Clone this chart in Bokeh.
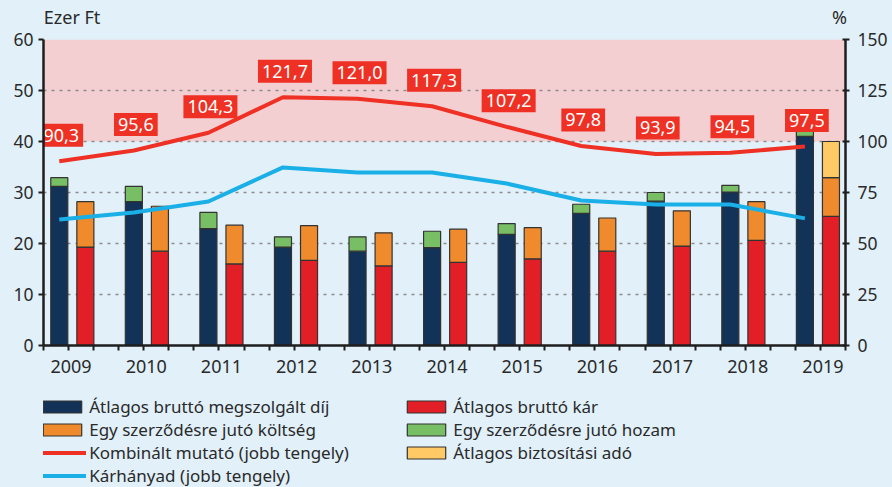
import numpy as np
from bokeh.plotting import figure
from bokeh.layouts import column
from bokeh.models import (Range1d, LinearAxis, FixedTicker, ColumnDataSource,
                          BoxAnnotation, Legend, LegendItem)
from bokeh.embed import file_html
from bokeh.resources import INLINE
from bokeh.core.properties import value

# ---------------- data ----------------
years = ["2009", "2010", "2011", "2012", "2013", "2014", "2015", "2016", "2017", "2018", "2019"]
dij = [31.2, 28.2, 22.9, 19.3, 18.5, 19.2, 21.8, 25.9, 28.3, 30.1, 41.0]      # Átlagos bruttó megszolgált díj
hozam = [1.7, 3.0, 3.2, 2.0, 2.8, 3.2, 2.1, 1.8, 1.7, 1.3, 1.5]               # Egy szerződésre jutó hozam
kar = [19.3, 18.5, 16.0, 16.7, 15.6, 16.3, 17.0, 18.5, 19.5, 20.6, 25.3]      # Átlagos bruttó kár
koltseg = [8.9, 8.8, 7.6, 6.8, 6.5, 6.5, 6.1, 6.5, 6.9, 7.6, 7.6]            # Egy szerződésre jutó költség
ado = [0, 0, 0, 0, 0, 0, 0, 0, 0, 0, 7.1]                                     # Átlagos biztosítási adó
kombinalt = [90.3, 95.6, 104.3, 121.7, 121.0, 117.3, 107.2, 97.8, 93.9, 94.5, 97.5]  # right axis, %
karhanyad = [61.8, 65.2, 70.6, 87.3, 84.8, 84.8, 79.4, 71.1, 69.1, 69.1, 62.3]       # right axis, %
left_ticks = [0, 10, 20, 30, 40, 50, 60]
right_ticks = [0, 25, 50, 75, 100, 125, 150]
left_unit = "Ezer Ft"
right_unit = "%"

# ---------------- style / layout ----------------
FONT = "Noto Sans"
BG = "#E1F0F9"
BAND = "#F4CFD2"
NAVY = "#133257"
RED = "#E21E26"
ORANGE = "#EF8B2C"
GREEN = "#78BE64"
YELLOW = "#FFC965"
LINE_RED = "#EE3124"
LINE_BLUE = "#1AAFE6"
TXT = "#2A2A2A"
OUTLINE = "#333333"

SLOTS = 32          # x axis runs over 32 small slots (3 per year)
BAR0 = 0.63         # centre of first dark bar (slot units)
STEP = 2.975        # distance between years (slot units)
RED_OFF = 1.04      # red bar offset from dark bar
BAR_W = 0.68
UNIT_POS = [1.14, 31.76]   # where the unit captions sit above the frame

n = len(years)
idx = np.arange(n)
x_dij = BAR0 + idx * STEP
x_kar = x_dij + RED_OFF
dij_a, hoz_a = np.array(dij), np.array(hozam)
kar_a, kol_a, ado_a = np.array(kar), np.array(koltseg), np.array(ado)

src = ColumnDataSource(dict(
    x_dij=x_dij, x_kar=x_kar,
    dij=dij_a, dij_top=dij_a + hoz_a,
    kar=kar_a, kol_top=kar_a + kol_a,
    komb=kombinalt, karh=karhanyad,
    lbl=[f"{v:.1f}".replace(".", ",") for v in kombinalt],
))
mask = ado_a > 0
src_ado = ColumnDataSource(dict(x=x_kar[mask], bottom=(kar_a + kol_a)[mask],
                                top=(kar_a + kol_a + ado_a)[mask]))

p = figure(width=892, height=384, x_range=Range1d(0, SLOTS), y_range=Range1d(0, 60),
           output_backend="svg", toolbar_location=None,
           min_border_left=43, min_border_right=47, min_border_top=39, min_border_bottom=39,
           background_fill_color=BG, border_fill_color=BG, outline_line_color=None)
p.extra_y_ranges = {"right": Range1d(0, 150)}

# red band (100-150 % on right axis = 40-60 on left)
p.add_layout(BoxAnnotation(bottom=40, top=60, fill_color=BAND, fill_alpha=1,
                           line_alpha=0, level="image"))

# grid
p.xgrid.visible = False
p.ygrid.ticker = FixedTicker(ticks=left_ticks[1:])
p.ygrid.grid_line_color = "#8C8C8C"
p.ygrid.grid_line_dash = "3 5"
p.ygrid.grid_line_width = 1.5

# axes
def style_axis(ax):
    ax.axis_line_color = "#1E1E1E"
    ax.axis_line_width = 2.5
    ax.major_tick_line_color = "#1E1E1E"
    ax.major_tick_line_width = 2
    ax.minor_tick_line_color = "#1E1E1E"
    ax.minor_tick_line_width = 2
    ax.major_label_text_font = FONT
    ax.major_label_text_color = TXT

ya = p.yaxis[0]
ya.ticker = FixedTicker(ticks=left_ticks)
style_axis(ya)
ya.major_tick_out = 5
ya.major_tick_in = 0
ya.major_label_standoff = 5
ya.major_label_text_font_size = "17.5px"

ra = LinearAxis(y_range_name="right", ticker=FixedTicker(ticks=right_ticks))
style_axis(ra)
ra.major_tick_out = 4
ra.major_tick_in = 3
ra.major_label_standoff = 8
ra.major_label_text_font_size = "17.5px"
p.add_layout(ra, "right")

xa = p.xaxis[0]
year_ticks = [round(1.1 + 3 * i, 2) for i in range(n)]
xa.ticker = FixedTicker(ticks=year_ticks, minor_ticks=list(range(SLOTS + 1)))
xa.major_label_overrides = {t: y for t, y in zip(year_ticks, years)}
style_axis(xa)
xa.major_tick_out = 0
xa.major_tick_in = 0
xa.minor_tick_out = 5
xa.minor_tick_in = 0
xa.major_label_standoff = 9
xa.major_label_text_font_size = "18px"

# unit captions: a bare axis above the frame carrying only two labels
ua = LinearAxis(ticker=FixedTicker(ticks=UNIT_POS),
                major_label_overrides={UNIT_POS[0]: left_unit, UNIT_POS[1]: right_unit})
ua.axis_line_color = None
ua.major_tick_line_color = None
ua.minor_tick_line_color = None
ua.major_label_standoff = 5
ua.major_label_text_font = FONT
ua.major_label_text_font_size = "18px"
ua.major_label_text_color = TXT
p.add_layout(ua, "above")

# bars
bar_kw = dict(width=BAR_W, line_color=OUTLINE, line_width=1.2, source=src)
r_dij = p.vbar(x="x_dij", bottom=0, top="dij", fill_color=NAVY, **bar_kw)
r_hoz = p.vbar(x="x_dij", bottom="dij", top="dij_top", fill_color=GREEN, **bar_kw)
r_kar = p.vbar(x="x_kar", bottom=0, top="kar", fill_color=RED, **bar_kw)
r_kol = p.vbar(x="x_kar", bottom="kar", top="kol_top", fill_color=ORANGE, **bar_kw)
r_ado = p.vbar(x="x", bottom="bottom", top="top", width=BAR_W, fill_color=YELLOW,
               line_color=OUTLINE, line_width=1.2, source=src_ado)

# lines (right axis)
r_karh = p.line(x="x_dij", y="karh", source=src, y_range_name="right",
                line_color=LINE_BLUE, line_width=4, line_join="round")
r_komb = p.line(x="x_dij", y="komb", source=src, y_range_name="right",
                line_color=LINE_RED, line_width=4, line_join="round")

# value labels
p.text(x="x_dij", y="komb", text="lbl", source=src, y_range_name="right",
       x_offset=2, y_offset=-26, text_align="center", text_baseline="middle",
       text_font=value(FONT), text_font_size="18px", text_color="white",
       background_fill_color=LINE_RED, padding=[4, 5])

# ---------------- legend strip below the chart ----------------
q = figure(width=892, height=103, x_range=Range1d(0, 1), y_range=Range1d(0, 1),
           output_backend="svg", toolbar_location=None,
           min_border_left=43, min_border_right=47, min_border_top=0, min_border_bottom=0,
           x_axis_location=None, y_axis_location=None,
           background_fill_color=BG, border_fill_color=BG, outline_line_color=None)
q.grid.visible = False
# swatch carriers for the legend (lie outside the visible range)
off = dict(x=[-5], top=[-5], width=1, line_color=OUTLINE, line_width=1.2)
l_dij = q.vbar(fill_color=NAVY, **off)
l_kol = q.vbar(fill_color=ORANGE, **off)
l_kar = q.vbar(fill_color=RED, **off)
l_hoz = q.vbar(fill_color=GREEN, **off)
l_ado = q.vbar(fill_color=YELLOW, **off)
l_komb = q.line(x=[-5, -4], y=[-5, -5], line_color=LINE_RED, line_width=4)
l_karh = q.line(x=[-5, -4], y=[-5, -5], line_color=LINE_BLUE, line_width=4)

items = [
    LegendItem(label="Átlagos bruttó megszolgált díj", renderers=[l_dij]),
    LegendItem(label="Egy szerződésre jutó költség", renderers=[l_kol]),
    LegendItem(label="Kombinált mutató (jobb tengely)", renderers=[l_komb]),
    LegendItem(label="Kárhányad (jobb tengely)", renderers=[l_karh]),
    LegendItem(label="Átlagos bruttó kár", renderers=[l_kar]),
    LegendItem(label="Egy szerződésre jutó hozam", renderers=[l_hoz]),
    LegendItem(label="Átlagos biztosítási adó", renderers=[l_ado]),
]
leg = Legend(items=items, location=(-4.8, 0), orientation="vertical", ncols=2,
             padding=0, margin=0, spacing=0, label_standoff=3,
             glyph_width=48, glyph_height=15, label_height=23, label_width=313,
             label_text_font=FONT, label_text_font_size="17px", label_text_color=TXT,
             background_fill_alpha=0, border_line_alpha=0)
q.add_layout(leg, "center")

page = column(p, q, spacing=0, styles={"background-color": BG})
open("out.html", "w").write(file_html(page, INLINE))
